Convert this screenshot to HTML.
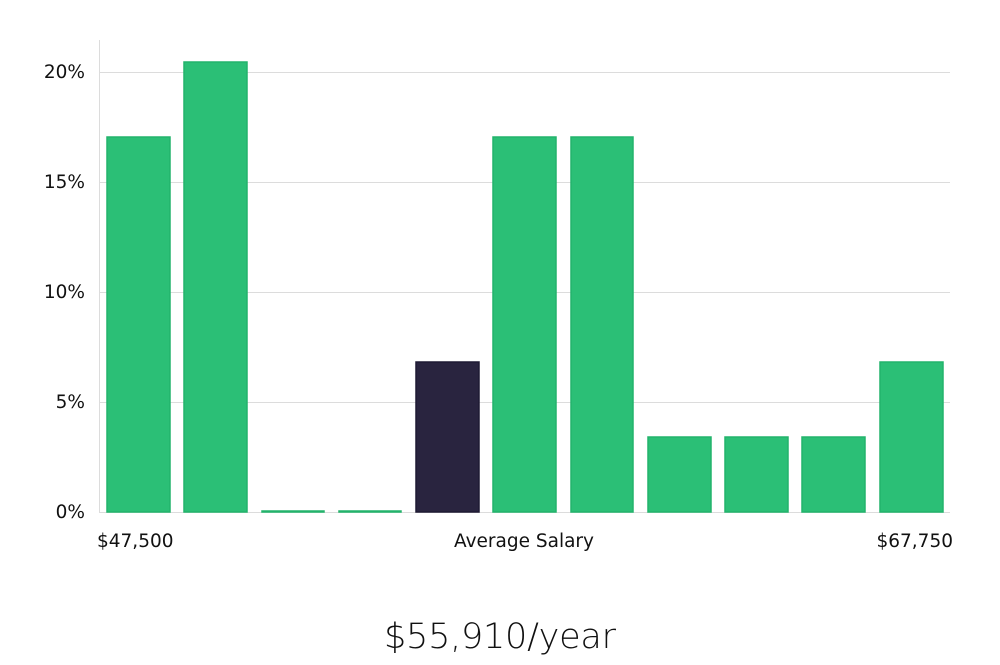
<!DOCTYPE html>
<html><head><meta charset="utf-8"><style>
body{margin:0;background:#fff;width:1000px;height:660px;overflow:hidden}
svg text{font-family:"DejaVu Sans","Liberation Sans",sans-serif;fill:#111}
</style></head><body>
<svg width="1000" height="660" xmlns="http://www.w3.org/2000/svg">
<g stroke="#dcdcdc" stroke-width="1">
<line x1="99" y1="72.5" x2="950" y2="72.5"/>
<line x1="99" y1="182.5" x2="950" y2="182.5"/>
<line x1="99" y1="292.5" x2="950" y2="292.5"/>
<line x1="99" y1="402.5" x2="950" y2="402.5"/>
<line x1="99" y1="512.5" x2="950" y2="512.5"/>
<line x1="99.5" y1="40" x2="99.5" y2="512"/>
</g>
<g font-size="18.5" text-anchor="end">
<text x="85" y="78">20%</text>
<text x="85" y="188">15%</text>
<text x="85" y="298">10%</text>
<text x="85" y="408">5%</text>
<text x="85" y="518">0%</text>
</g>
<g fill="#2bbf76" stroke="#22b36b" stroke-width="1.5">
<rect x="107" y="137" width="63" height="375"/>
<rect x="184" y="62" width="63" height="450"/>
<rect x="262" y="511" width="62" height="1"/>
<rect x="339" y="511" width="62" height="1"/>
<rect x="493" y="137" width="63" height="375"/>
<rect x="571" y="137" width="62" height="375"/>
<rect x="648" y="437" width="63" height="75"/>
<rect x="725" y="437" width="63" height="75"/>
<rect x="802" y="437" width="63" height="75"/>
<rect x="880" y="362" width="63" height="150"/>
</g>
<rect x="416" y="362" width="63" height="150" fill="#29243f" stroke="#1e1a33" stroke-width="1.5"/>
<g font-size="18.5">
<text x="97" y="547">$47,500</text>
<text x="524" y="547" text-anchor="middle">Average Salary</text>
<text x="953" y="547" text-anchor="end">$67,750</text>
</g>
<text x="500" y="648" font-size="35" text-anchor="middle" style="font-weight:300" textLength="232">$55,910/year</text>
</svg>
</body></html>
